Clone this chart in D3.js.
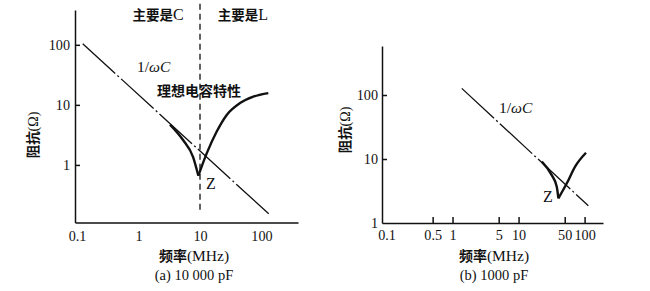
<!DOCTYPE html>
<html>
<head>
<meta charset="utf-8">
<script src="https://cdn.jsdelivr.net/npm/d3@7"></script>
<style>
  body { margin: 0; background: #fff; }
  svg { display: block; }
</style>
</head>
<body>
<script>
'use strict';

// panel (a) 10 000 pF
const freqTicksA = [0.1, 1, 10, 100];
const freqLabelsA = ['0.1', '1', '10', '100'];
const impTicksA = [1, 10, 100];
const impLabelsA = ['1', '10', '100'];
const capLineFreqA = [0.124, 137];
const capLineImpA = [104, 0.147];
const zLeftFreqA = [3.25, 5.3, 7.7, 9.4];
const zLeftImpA = [4.7, 2.6, 1.36, 0.66];
const zRightFreqA = [9.4, 12.9, 18.7, 27.2, 44.7, 73.6, 129];
const zRightImpA = [0.66, 1.57, 3.6, 6.8, 10.7, 13.7, 15.7];
const resonanceFreqA = 10;
const resonanceImpA = [0.18, 500];

// panel (b) 1000 pF
const freqTicksB = [0.1, 0.5, 1, 5, 10, 50, 100];
const freqLabelsB = ['0.1', '0.5', '1', '5', '10', '50', '100'];
const freqTickMarksB = [0.5, 1, 5, 10, 50, 100];
const impTicksB = [1, 10, 100];
const impLabelsB = ['1', '10', '100'];
const impTickMarksB = [10, 100];
const capLineFreqB = [1.38, 114];
const capLineImpB = [127, 1.86];
const zLeftFreqB = [22.5, 31.8, 37.9, 40.1];
const zLeftImpB = [9.1, 5.6, 3.7, 2.43];
const zRightFreqB = [40.1, 53.8, 71.8, 105];
const zRightImpB = [2.43, 4.17, 7.6, 12.5];

const SERIF = "'Liberation Serif', 'Times New Roman', serif";
const CJK = "'Noto Sans CJK SC', sans-serif";

const svg = d3.select('body').append('svg')
    .attr('width', 650)
    .attr('height', 291);

// split a string into CJK (bold) and latin (serif) runs
function richText(sel, str, size, latinSize) {
    const runs = str.match(/[\u4e00-\u9fff]+|[^\u4e00-\u9fff]+/g);
    runs.forEach(function (r) {
        const cjk = /[\u4e00-\u9fff]/.test(r);
        sel.append('tspan')
            .text(r)
            .attr('font-family', cjk ? CJK : SERIF)
            .attr('font-weight', cjk ? 'bold' : 'normal')
            .attr('font-size', cjk ? size : (latinSize || size + 1));
    });
    return sel;
}

function pairs(xs, ys) {
    return xs.map(function (v, i) { return [v, ys[i]]; });
}

function styleAxis(g) {
    g.attr('font-family', SERIF).attr('font-size', 14.2);
    g.selectAll('text').attr('fill', '#111');
    g.selectAll('path, line').attr('stroke', '#111').attr('stroke-width', 1.5);
}

function drawPanel(p) {
    const x = d3.scaleLog().domain(p.xDomain).range(p.xRange);
    const y = d3.scaleLog().domain(p.yDomain).range(p.yRange);
    const g = svg.append('g');

    // x axis labels
    g.append('g')
        .attr('transform', 'translate(0,' + p.yRange[0] + ')')
        .call(d3.axisBottom(x).tickValues(p.xTicks).tickSize(0).tickSizeOuter(0)
            .tickPadding(p.xPad)
            .tickFormat(function (d, i) { return p.xLabels[i]; }))
        .call(styleAxis);
    // x tick marks (inward)
    if (p.xMarks.length) {
        g.append('g')
            .attr('transform', 'translate(0,' + p.yRange[0] + ')')
            .call(d3.axisBottom(x).tickValues(p.xMarks).tickSize(-6).tickSizeOuter(0).tickFormat(''))
            .call(styleAxis)
            .select('.domain').remove();
    }
    // y axis labels
    g.append('g')
        .attr('transform', 'translate(' + p.xRange[0] + ',0)')
        .call(d3.axisLeft(y).tickValues(p.yTicks).tickSize(0).tickSizeOuter(0)
            .tickPadding(p.yPad)
            .tickFormat(function (d, i) { return p.yLabels[i]; }))
        .call(styleAxis);
    g.append('g')
        .attr('transform', 'translate(' + p.xRange[0] + ',0)')
        .call(d3.axisLeft(y).tickValues(p.yMarks).tickSize(-5).tickSizeOuter(0).tickFormat(''))
        .call(styleAxis)
        .select('.domain').remove();

    const line = d3.line().x(function (d) { return x(d[0]); }).y(function (d) { return y(d[1]); });
    const curve = d3.line().x(function (d) { return x(d[0]); }).y(function (d) { return y(d[1]); })
        .curve(d3.curveMonotoneX);

    // ideal capacitor 1/wC
    g.append('path')
        .attr('d', line(pairs(p.capF, p.capZ)))
        .attr('fill', 'none')
        .attr('stroke', '#111')
        .attr('stroke-width', 1.3)
        .attr('stroke-dasharray', '44,3,2,3');

    // resonance divider
    if (p.resF) {
        g.append('path')
            .attr('d', line(p.resZ.map(function (z) { return [p.resF, z]; })))
            .attr('stroke', '#111')
            .attr('stroke-width', 1.3)
            .attr('stroke-dasharray', '6,4');
    }

    // real impedance Z
    [pairs(p.zLF, p.zLZ), pairs(p.zRF, p.zRZ)].forEach(function (branch) {
        g.append('path')
            .attr('d', curve(branch))
            .attr('fill', 'none')
            .attr('stroke', '#111')
            .attr('stroke-width', 2.4)
            .attr('stroke-linejoin', 'miter');
    });

    // titles
    richText(g.append('text')
        .attr('x', p.titleX).attr('y', 261)
        .attr('text-anchor', 'middle').attr('fill', '#111'), '频率(MHz)', 14, 15.5);
    g.append('text')
        .attr('x', p.titleX).attr('y', 280)
        .attr('text-anchor', 'middle')
        .attr('font-family', SERIF).attr('font-size', 14.5).attr('fill', '#111')
        .text(p.caption);
    richText(g.append('text')
        .attr('transform', 'translate(' + p.yTitleX + ',' + p.yTitleY + ') rotate(-90)')
        .attr('text-anchor', 'middle').attr('dy', '0.35em').attr('fill', '#111'), '阻抗(Ω)', 13.5, 14);

    // annotations
    p.notes.forEach(function (n) {
        const t = g.append('text')
            .attr('x', n.x).attr('y', n.y)
            .attr('text-anchor', n.anchor || 'start')
            .attr('fill', '#111');
        if (n.italic) {
            t.attr('font-family', SERIF).attr('font-size', 15.5)
                .append('tspan').text('1/');
            t.append('tspan').attr('font-style', 'italic').text('ωC');
        } else {
            richText(t, n.text, n.size || 13, n.latin);
        }
    });
}

drawPanel({
    xDomain: [0.0928, 392], xRange: [75, 298],
    yDomain: [0.11, 380], yRange: [222.5, 10],
    xTicks: freqTicksA, xLabels: freqLabelsA, xMarks: [], xPad: 8,
    yTicks: impTicksA, yLabels: impLabelsA, yMarks: impTicksA, yPad: 5,
    capF: capLineFreqA, capZ: capLineImpA,
    resF: resonanceFreqA, resZ: resonanceImpA,
    zLF: zLeftFreqA, zLZ: zLeftImpA, zRF: zRightFreqA, zRZ: zRightImpA,
    titleX: 194, caption: '(a) 10 000 pF',
    yTitleX: 32, yTitleY: 135,
    notes: [
        { x: 158, y: 20, text: '主要是C', anchor: 'middle', size: 13.5, latin: 16 },
        { x: 243, y: 20, text: '主要是L', anchor: 'middle', size: 13.5, latin: 16 },
        { x: 137, y: 72, italic: true },
        { x: 199, y: 96, text: '理想电容特性', anchor: 'middle', size: 14 },
        { x: 206, y: 189, text: 'Z', size: 14, latin: 16 }
    ]
});

drawPanel({
    xDomain: [0.0855, 190], xRange: [382, 603],
    yDomain: [1, 583], yRange: [223, 46],
    xTicks: freqTicksB, xLabels: freqLabelsB, xMarks: freqTickMarksB, xPad: 7,
    yTicks: impTicksB, yLabels: impLabelsB, yMarks: impTickMarksB, yPad: 4,
    capF: capLineFreqB, capZ: capLineImpB,
    resF: null,
    zLF: zLeftFreqB, zLZ: zLeftImpB, zRF: zRightFreqB, zRZ: zRightImpB,
    titleX: 494, caption: '(b) 1000 pF',
    yTitleX: 344, yTitleY: 130,
    notes: [
        { x: 499, y: 113, italic: true },
        { x: 543, y: 202, text: 'Z', size: 14, latin: 16 }
    ]
});
</script>
</body>
</html>
